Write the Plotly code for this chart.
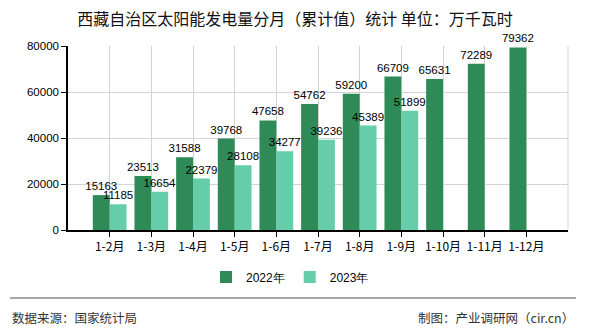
import plotly.graph_objects as go

categories = ["1-2月", "1-3月", "1-4月", "1-5月", "1-6月", "1-7月", "1-8月", "1-9月", "1-10月", "1-11月", "1-12月"]
values_2022 = [15163, 23513, 31588, 39768, 47658, 54762, 59200, 66709, 65631, 72289, 79362]
values_2023 = [11185, 16654, 22379, 28108, 34277, 39236, 45389, 51899, None, None, None]
series_names = ["2022年", "2023年"]
y_ticks = [0, 20000, 40000, 60000, 80000]

W, H = 590, 330
L, R, T, B = 68, 22, 46, 100
PW = W - L - R
PH = H - T - B


def px_x(px):
    return (px - L) / PW


def px_y(py):
    return (H - B - py) / PH


FONT = "Noto Sans CJK SC, Liberation Sans, sans-serif"
NUMFONT = "Liberation Sans, Arial, sans-serif"

fig = go.Figure()
fig.add_trace(go.Bar(
    x=categories, y=values_2022, name=series_names[0],
    marker=dict(color="#2E8B57", line=dict(width=0)),
    text=[str(v) for v in values_2022], textposition="outside",
    textfont=dict(family=NUMFONT, size=11.5, color="#000"),
    cliponaxis=False, constraintext="none",
))
fig.add_trace(go.Bar(
    x=categories, y=values_2023, name=series_names[1],
    marker=dict(color="#66CDAA", line=dict(width=0)),
    text=[("" if v is None else str(v)) for v in values_2023], textposition="outside",
    textfont=dict(family=NUMFONT, size=11.5, color="#000"),
    cliponaxis=False, constraintext="none",
))

fig.update_layout(
    width=W, height=H,
    margin=dict(l=L, r=R, t=T, b=B),
    paper_bgcolor="white", plot_bgcolor="white",
    barmode="group", bargap=0.19, bargroupgap=0,
    title=dict(
        text="西藏自治区太阳能发电量分月（累计值）统计 单位：万千瓦时",
        x=0.5, xref="container", xanchor="center",
        y=1 - 19 / H, yref="container", yanchor="middle",
        font=dict(family=FONT, size=16, color="#111"),
    ),
    legend=dict(
        orientation="h", x=px_x(290), xanchor="center",
        y=px_y(277), yanchor="middle",
        font=dict(family=NUMFONT, size=12, color="#000"),
        itemwidth=30, tracegroupgap=0,
    ),
    showlegend=True,
)

fig.update_xaxes(
    type="category", range=[-1, len(categories)],
    showgrid=True, gridcolor="#D3D3D3", gridwidth=1,
    showline=True, linecolor="#000", linewidth=1.5,
    ticks="outside", ticklen=5, tickcolor="#000",
    tickfont=dict(family=FONT, size=12, color="#000"),
    fixedrange=True,
)
fig.update_yaxes(
    range=[0, 80000], tickvals=y_ticks, ticktext=[str(v) for v in y_ticks],
    showgrid=True, gridcolor="#D3D3D3", gridwidth=1,
    showline=True, linecolor="#000", linewidth=1.5,
    ticks="outside", ticklen=5, tickcolor="#000",
    tickfont=dict(family=NUMFONT, size=11.5, color="#000"),
    zeroline=False, fixedrange=True,
)

# right border of plot area
fig.add_shape(type="line", xref="paper", yref="paper", x0=1, x1=1, y0=0, y1=1,
              line=dict(color="#D3D3D3", width=1))
# footer separator
fig.add_shape(type="line", xref="paper", yref="paper",
              x0=px_x(10), x1=px_x(576), y0=px_y(298), y1=px_y(298),
              line=dict(color="#888", width=1.5))
fig.add_annotation(text="数据来源：国家统计局", xref="paper", yref="paper",
                   x=px_x(10), y=px_y(317), xanchor="left", yanchor="middle",
                   showarrow=False, font=dict(family=FONT, size=12.5, color="#333"))
fig.add_annotation(text="制图：产业调研网（cir.cn）", xref="paper", yref="paper",
                   x=px_x(576), y=px_y(317), xanchor="right", yanchor="middle",
                   showarrow=False, font=dict(family=FONT, size=12.5, color="#333"))

fig.write_html("out.html", config={"displayModeBar": False})
